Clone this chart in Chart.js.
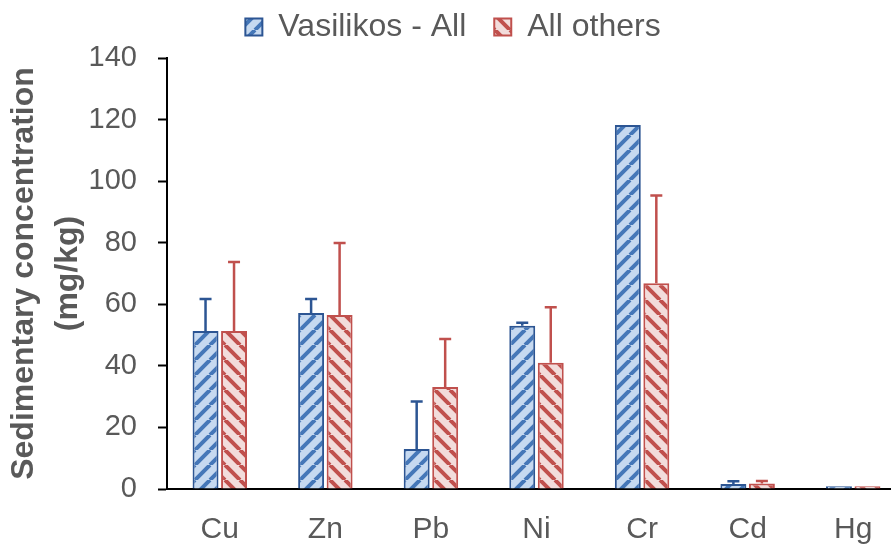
<!DOCTYPE html>
<html>
<head>
<meta charset="utf-8">
<script src="https://cdn.jsdelivr.net/npm/chart.js@4.4.0/dist/chart.umd.min.js"></script>
<style>
  html, body { margin: 0; padding: 0; background: #fff; overflow: hidden; }
  #wrap { position: relative; width: 906px; height: 544px; }
</style>
</head>
<body>
<div id="wrap"><canvas id="chart"></canvas></div>
<script>
const metals = ['Cu', 'Zn', 'Pb', 'Ni', 'Cr', 'Cd', 'Hg'];
const vasilikos = [51.3, 57.2, 13.0, 53.0, 118.2, 1.6, 0.9];
const vasilikosErr = [10.4, 4.5, 15.4, 1.0, 0, 0.9, 0];
const others = [51.3, 56.5, 33.1, 41.0, 66.8, 1.8, 0.9];
const othersErr = [22.4, 23.4, 15.6, 18.0, 28.5, 0.8, 0];
const yTicks = [0, 20, 40, 60, 80, 100, 120, 140];

const textColor = '#595959';
const font = 'Arial, "Liberation Sans", sans-serif';

const makePattern = (bg, stripe, up) => {
  const s = 15;
  const c = document.createElement('canvas');
  c.width = s; c.height = s;
  const g = c.getContext('2d');
  g.fillStyle = bg;
  g.fillRect(0, 0, s, s);
  g.strokeStyle = stripe;
  g.lineWidth = 4;
  g.beginPath();
  for (let k = -1; k <= 1; k++) {
    if (up) {
      g.moveTo(k * s, s); g.lineTo(k * s + s, 0);
    } else {
      g.moveTo(k * s, 0); g.lineTo(k * s + s, s);
    }
  }
  g.stroke();
  return g.createPattern(c, 'repeat');
};

const bluePattern = makePattern('#c6d9f0', '#4577b8', true);
const redPattern = makePattern('#f2dcdb', '#c0504d', false);

const errorBars = {
  id: 'errorBars',
  afterDatasetsDraw(chart) {
    const ctx = chart.ctx;
    const y = chart.scales.y;
    chart.data.datasets.forEach((ds, i) => {
      const meta = chart.getDatasetMeta(i);
      meta.data.forEach((bar, j) => {
        const err = ds.errors[j];
        if (!err) return;
        const top = y.getPixelForValue(ds.data[j] + err);
        ctx.save();
        ctx.strokeStyle = ds.borderColor;
        ctx.lineWidth = 2.5;
        ctx.beginPath();
        ctx.moveTo(bar.x, bar.y);
        ctx.lineTo(bar.x, top);
        ctx.moveTo(bar.x - 6, top);
        ctx.lineTo(bar.x + 6, top);
        ctx.stroke();
        ctx.restore();
      });
    });
  }
};

// legend padding sets the gap between items; keep its box height fixed
const legendHeight = {
  id: 'legendHeight',
  beforeLayout(chart) {
    const lg = chart.legend;
    if (!lg || lg._fixed) return;
    const fit = lg.fit;
    lg.fit = function () { fit.call(this); this.height = 75; };
    lg._fixed = true;
  }
};

new Chart(document.getElementById('chart'), {
  type: 'bar',
  data: {
    labels: metals,
    datasets: [
      {
        label: 'Vasilikos - All',
        data: vasilikos,
        errors: vasilikosErr,
        backgroundColor: bluePattern,
        borderColor: '#2c5593',
        borderWidth: 2,
        categoryPercentage: 0.54,
        barPercentage: 0.91,
      },
      {
        label: 'All others',
        data: others,
        errors: othersErr,
        backgroundColor: redPattern,
        borderColor: '#c0504d',
        borderWidth: 2,
        categoryPercentage: 0.54,
        barPercentage: 0.91,
      },
    ]
  },
  options: {
    responsive: true,
    maintainAspectRatio: false,
    animation: false,
    layout: { padding: { top: -17, left: 0, right: 0, bottom: 0 } },
    plugins: {
      tooltip: { enabled: false },
      legend: {
        display: true,
        position: 'top',
        labels: {
          color: textColor,
          font: { family: font, size: 32 },
          boxWidth: 17,
          boxHeight: 17,
          padding: 28,
        }
      }
    },
    scales: {
      x: {
        grid: { display: false },
        border: { display: true, color: '#000', width: 2 },
        ticks: { color: textColor, font: { family: font, size: 30 }, padding: 15 },
        afterFit: scale => { scale.height = 55; }
      },
      y: {
        min: 0,
        max: 140,
        afterBuildTicks: scale => { scale.ticks = yTicks.map(v => ({value: v})); },
        grid: { drawOnChartArea: false, drawTicks: true, tickLength: 9, color: '#000', tickWidth: 2 },
        border: { display: true, color: '#000', width: 2 },
        ticks: { color: textColor, font: { family: font, size: 29 }, padding: 21 },
        title: {
          display: true,
          text: ['Sedimentary concentration', '(mg/kg)'],
          color: textColor,
          font: { family: font, size: 32, weight: 'bold', lineHeight: 1.375 },
          padding: { top: 2, bottom: 0 }
        },
        afterFit: scale => { scale.width = 167; }
      }
    }
  },
  plugins: [errorBars, legendHeight]
});
</script>
</body>
</html>
